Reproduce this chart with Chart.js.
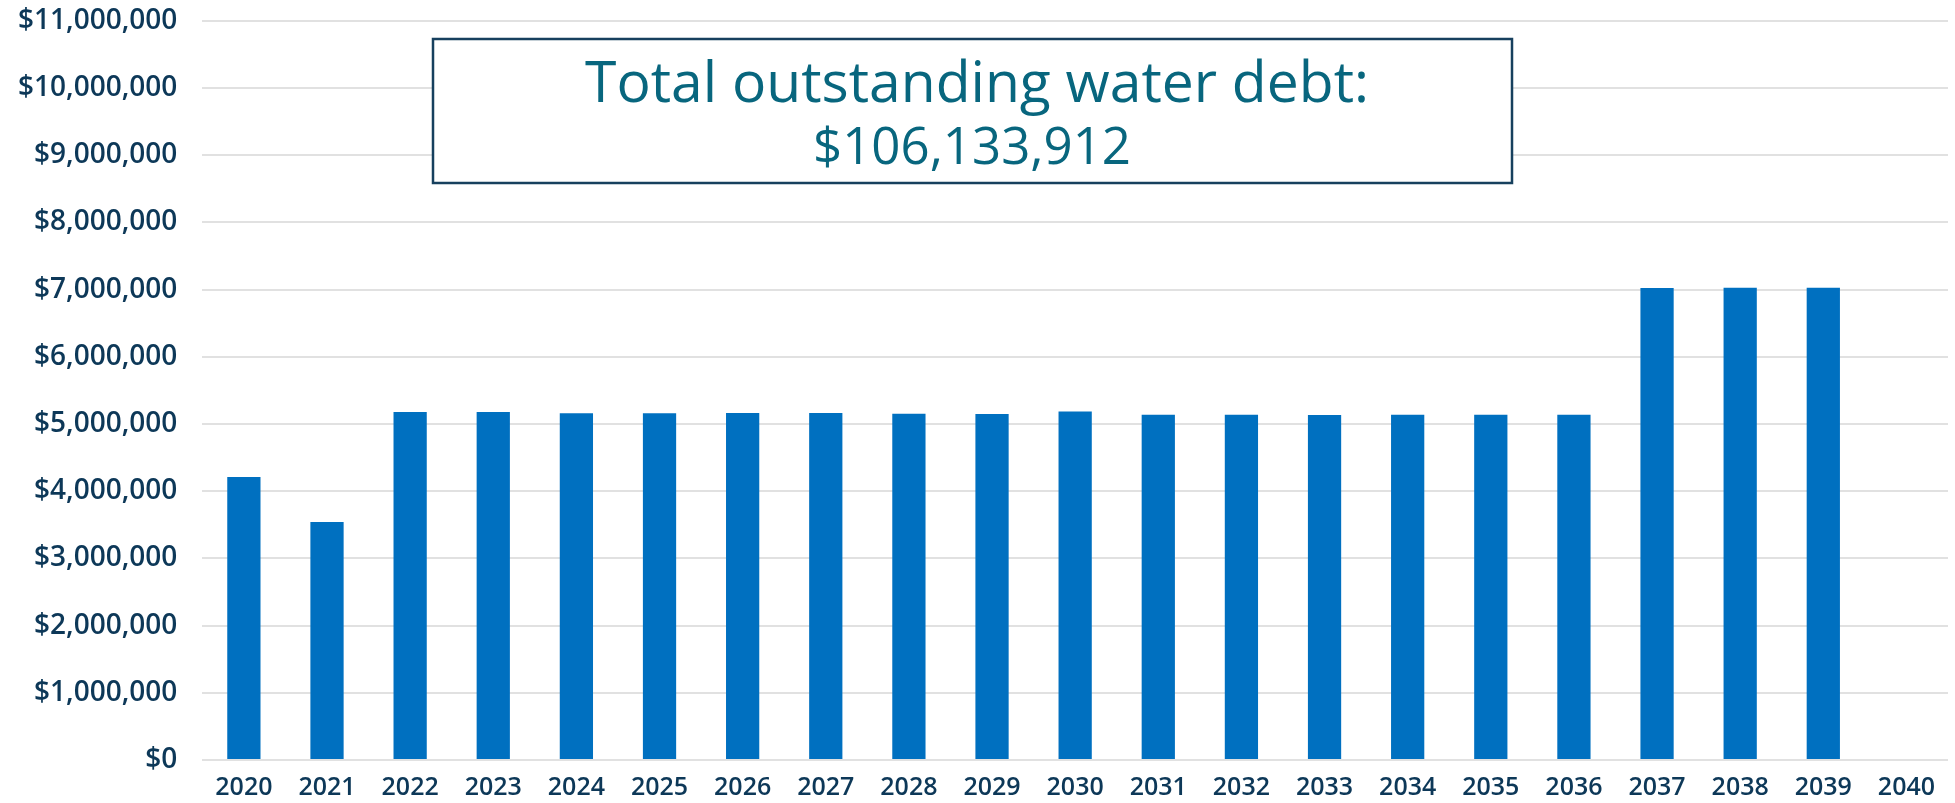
<!DOCTYPE html>
<html>
<head>
<meta charset="utf-8">
<script src="https://cdn.jsdelivr.net/npm/chart.js@4.4.0/dist/chart.umd.min.js"></script>
<style>
    html, body { margin: 0; padding: 0; background: #ffffff; }
    #wrap { width: 1955px; height: 803px; }
</style>
</head>
<body>
<div id="wrap"><canvas id="DebtChart"></canvas></div>
<script>
const years = ['2020', '2021', '2022', '2023', '2024', '2025', '2026', '2027', '2028', '2029', '2030',
    '2031', '2032', '2033', '2034', '2035', '2036', '2037', '2038', '2039', '2040'];
// annual debt service, dollars
const debtService = [4210000, 3540000, 5180000, 5180000, 5160000, 5160000, 5163000, 5163000, 5153000, 5149000, 5187000,
    5138000, 5138000, 5134000, 5138000, 5138000, 5138000, 7025000, 7028000, 7028000, null];
const totalDebtLines = ['Total outstanding water debt:', '$106,133,912'];

const navy = '#0d3858';
const fmtDollar = v => '$' + Number(v).toLocaleString('en-US');

// boxed callout with the debt total
const calloutBox = {
    id: 'calloutBox',
    afterDraw(chart) {
        const ctx = chart.ctx;
        const x0 = 433, y0 = 39, w = 1079, h = 144;
        ctx.save();
        ctx.fillStyle = '#ffffff';
        ctx.fillRect(x0, y0, w, h);
        ctx.strokeStyle = '#17405e';
        ctx.lineWidth = 2.5;
        ctx.strokeRect(x0, y0, w, h);
        ctx.fillStyle = '#08667e';
        ctx.textAlign = 'center';
        ctx.textBaseline = 'alphabetic';
        ctx.font = '400 57px "Open Sans"';
        ctx.fillText(totalDebtLines[0], 977, 102);
        ctx.font = '400 51px "Open Sans"';
        ctx.fillText(totalDebtLines[1], 972, 164);
        ctx.restore();
    }
};

const ctxDebt = document.getElementById('DebtChart');
const dataDebt = {
    labels: years,
    datasets: [{
        label: 'Debt service',
        data: debtService,
        backgroundColor: '#0070c0',
        borderWidth: 0,
        barPercentage: 0.4,
        categoryPercentage: 1.0
    }]
};
const configDebt = {
    type: 'bar',
    data: dataDebt,
    options: {
        responsive: true,
        maintainAspectRatio: false,
        animation: false,
        layout: { padding: { left: 14, right: 7, top: 0, bottom: 0 } },
        plugins: {
            legend: { display: false },
            tooltip: { enabled: false }
        },
        scales: {
            x: {
                // invisible tick marks just to space the year labels off the axis
                grid: { display: true, drawOnChartArea: false, drawTicks: true, tickLength: 13, color: 'rgba(0,0,0,0)' },
                border: { display: false },
                ticks: {
                    color: navy,
                    padding: 0,
                    maxRotation: 0,
                    font: { family: '"Open Sans"', size: 25, weight: '600' }
                }
            },
            y: {
                min: 0,
                max: 11000000,
                border: { display: false },
                grid: { color: '#e1e1e1', lineWidth: 2, drawTicks: true, tickLength: 21, tickColor: 'rgba(0,0,0,0)' },
                ticks: {
                    stepSize: 1000000,
                    color: navy,
                    padding: 4,
                    font: { family: '"Open Sans"', size: 28, weight: '600' },
                    callback: v => fmtDollar(v)
                }
            }
        }
    },
    plugins: [calloutBox]
};
new Chart(ctxDebt, configDebt);
</script>
</body>
</html>
